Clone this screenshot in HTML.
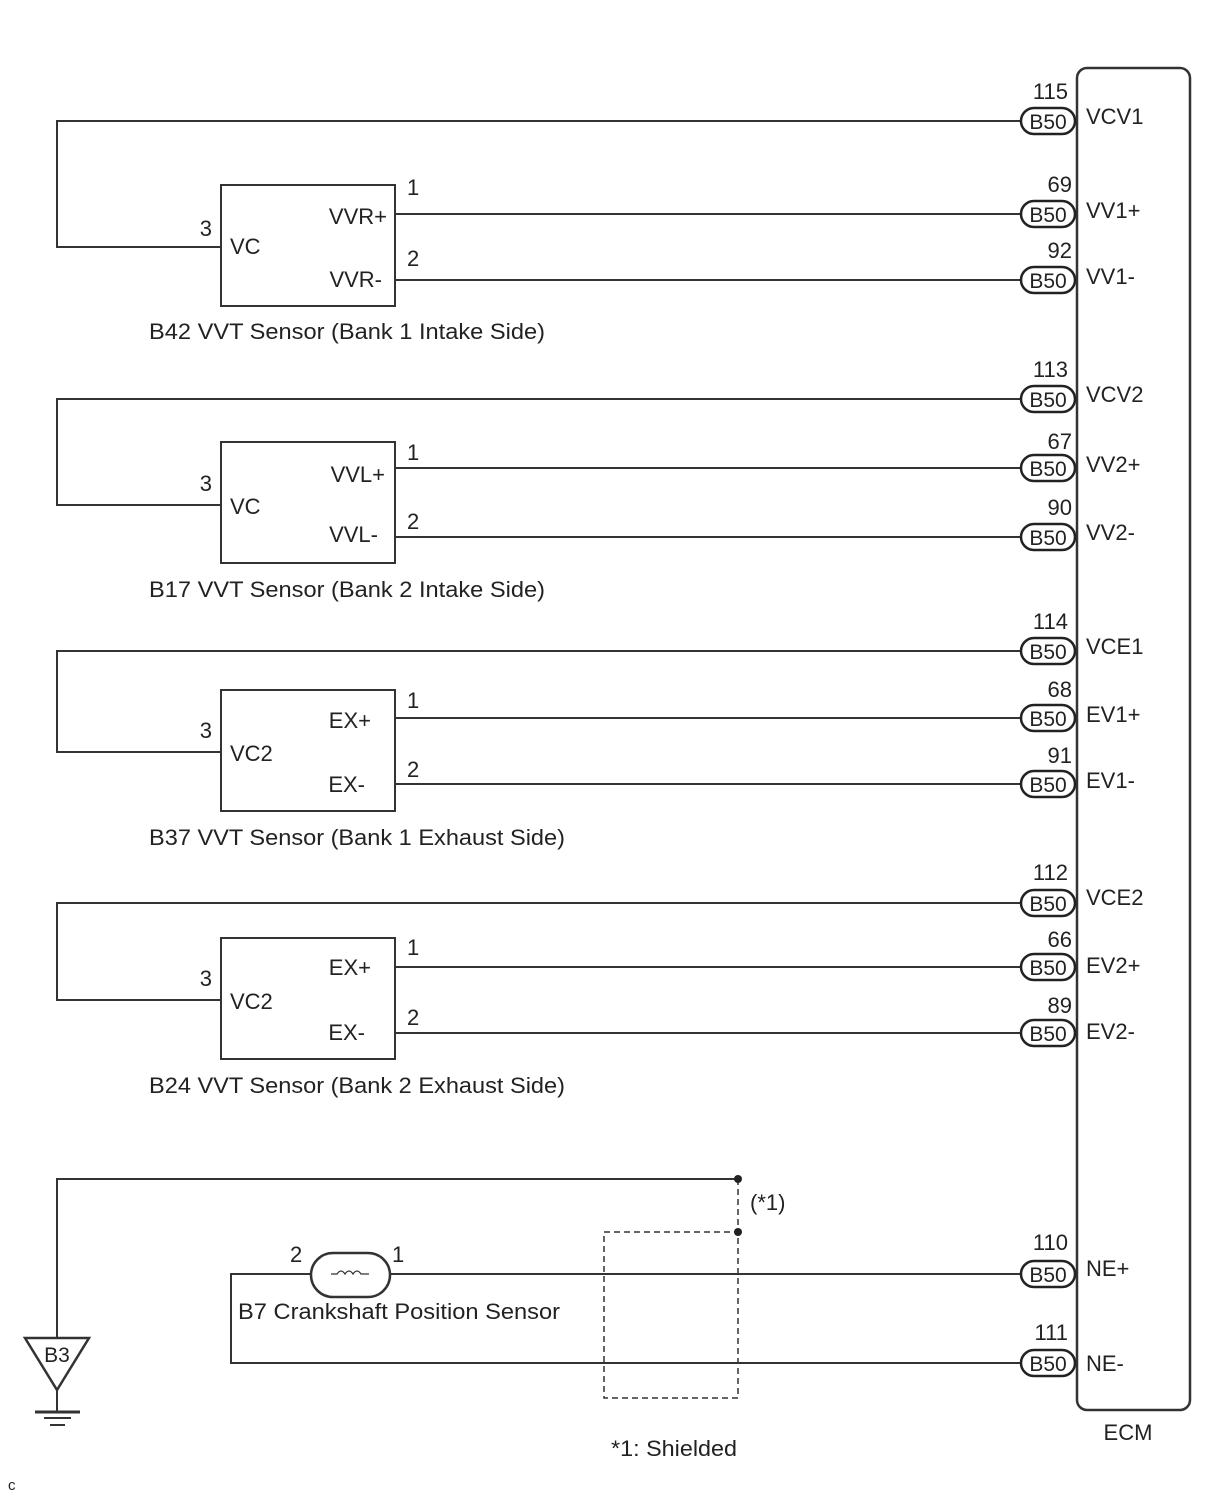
<!DOCTYPE html>
<html><head><style>body{margin:0;background:#fff}svg{display:block}text{font-family:"Liberation Sans",Arial,sans-serif;fill:#222}</style></head><body>
<svg width="1210" height="1498" viewBox="0 0 1210 1498" xmlns="http://www.w3.org/2000/svg">
<g stroke="#333" stroke-width="2" fill="none">
<rect x="1077" y="68" width="113" height="1342" rx="10" stroke-width="2.5"/>
<polyline points="1021,121 57,121 57,247 221,247"/>
<polyline points="1021,399 57,399 57,505 221,505"/>
<polyline points="1021,651 57,651 57,752 221,752"/>
<polyline points="1021,903 57,903 57,1000 221,1000"/>
<rect x="221" y="185" width="174" height="121"/>
<rect x="221" y="442" width="174" height="121"/>
<rect x="221" y="690" width="174" height="121"/>
<rect x="221" y="938" width="174" height="121"/>
<line x1="395" y1="214" x2="1021" y2="214"/><line x1="395" y1="280" x2="1021" y2="280"/>
<line x1="395" y1="468" x2="1021" y2="468"/><line x1="395" y1="537" x2="1021" y2="537"/>
<line x1="395" y1="718" x2="1021" y2="718"/><line x1="395" y1="784" x2="1021" y2="784"/>
<line x1="395" y1="967" x2="1021" y2="967"/><line x1="395" y1="1033" x2="1021" y2="1033"/>
<polyline points="738,1179 57,1179 57,1338"/>
<polygon points="25,1338 89,1338 57,1390" stroke-width="2.5"/>
<line x1="57" y1="1390" x2="57" y2="1412"/>
<line x1="35" y1="1412" x2="80" y2="1412" stroke-width="3"/>
<line x1="44" y1="1418" x2="71" y2="1418"/>
<line x1="50" y1="1425" x2="65" y2="1425"/>
<polyline points="1021,1274 390,1274"/>
<polyline points="311,1274 231,1274 231,1363 1021,1363"/>
<rect x="311" y="1253" width="79" height="44" rx="22" stroke-width="2.5"/>
<path d="M331,1274 h6 q4,-6 8,0 q4,-6 8,0 q4,-6 8,0 h8" stroke-width="1.3"/>
<g stroke-dasharray="6,4" stroke-width="1.5">
<line x1="738" y1="1179" x2="738" y2="1232"/>
<rect x="604" y="1232" width="134" height="166"/>
</g>
</g>
<circle cx="738" cy="1179" r="4" fill="#222"/><circle cx="738" cy="1232" r="4" fill="#222"/>
<g stroke="#222" stroke-width="2.5" fill="#fff">
<rect x="1021" y="108" width="54" height="26" rx="13"/>
<rect x="1021" y="201" width="54" height="26" rx="13"/>
<rect x="1021" y="267" width="54" height="26" rx="13"/>
<rect x="1021" y="386" width="54" height="26" rx="13"/>
<rect x="1021" y="455" width="54" height="26" rx="13"/>
<rect x="1021" y="524" width="54" height="26" rx="13"/>
<rect x="1021" y="638" width="54" height="26" rx="13"/>
<rect x="1021" y="705" width="54" height="26" rx="13"/>
<rect x="1021" y="771" width="54" height="26" rx="13"/>
<rect x="1021" y="890" width="54" height="26" rx="13"/>
<rect x="1021" y="954" width="54" height="26" rx="13"/>
<rect x="1021" y="1020" width="54" height="26" rx="13"/>
<rect x="1021" y="1261" width="54" height="26" rx="13"/>
<rect x="1021" y="1350" width="54" height="26" rx="13"/>
</g>
<g font-size="22">
<g text-anchor="middle">
<text x="1048" y="129" font-size="21">B50</text><text x="1048" y="222" font-size="21">B50</text><text x="1048" y="288" font-size="21">B50</text>
<text x="1048" y="407" font-size="21">B50</text><text x="1048" y="476" font-size="21">B50</text><text x="1048" y="545" font-size="21">B50</text>
<text x="1048" y="659" font-size="21">B50</text><text x="1048" y="726" font-size="21">B50</text><text x="1048" y="792" font-size="21">B50</text>
<text x="1048" y="911" font-size="21">B50</text><text x="1048" y="975" font-size="21">B50</text><text x="1048" y="1041" font-size="21">B50</text>
<text x="1048" y="1282" font-size="21">B50</text><text x="1048" y="1371" font-size="21">B50</text>
<text x="1128" y="1440">ECM</text>
<text x="674" y="1456" textLength="126" lengthAdjust="spacingAndGlyphs">*1: Shielded</text>
<text x="57" y="1362" font-size="21">B3</text>
</g>
<g text-anchor="end">
<text x="1068" y="99">115</text><text x="1072" y="192">69</text><text x="1072" y="258">92</text>
<text x="1068" y="377">113</text><text x="1072" y="449">67</text><text x="1072" y="515">90</text>
<text x="1068" y="629">114</text><text x="1072" y="697">68</text><text x="1072" y="763">91</text>
<text x="1068" y="880">112</text><text x="1072" y="947">66</text><text x="1072" y="1013">89</text>
<text x="1068" y="1250">110</text><text x="1068" y="1340">111</text>
<text x="387" y="224">VVR+</text><text x="382" y="287">VVR-</text>
<text x="385" y="482">VVL+</text><text x="378" y="542">VVL-</text>
<text x="371" y="728">EX+</text><text x="365" y="792">EX-</text>
<text x="371" y="975">EX+</text><text x="365" y="1040">EX-</text>
<text x="212" y="236">3</text><text x="212" y="491">3</text><text x="212" y="738">3</text><text x="212" y="986">3</text>
</g>
<text x="1086" y="124">VCV1</text><text x="1086" y="218">VV1+</text><text x="1086" y="284">VV1-</text>
<text x="1086" y="402">VCV2</text><text x="1086" y="472">VV2+</text><text x="1086" y="540">VV2-</text>
<text x="1086" y="654">VCE1</text><text x="1086" y="722">EV1+</text><text x="1086" y="788">EV1-</text>
<text x="1086" y="905">VCE2</text><text x="1086" y="973">EV2+</text><text x="1086" y="1039">EV2-</text>
<text x="1086" y="1276">NE+</text><text x="1086" y="1371">NE-</text>
<text x="230" y="254">VC</text><text x="230" y="514">VC</text><text x="230" y="761">VC2</text><text x="230" y="1009">VC2</text>
<text x="407" y="195">1</text><text x="407" y="266">2</text>
<text x="407" y="460">1</text><text x="407" y="529">2</text>
<text x="407" y="708">1</text><text x="407" y="777">2</text>
<text x="407" y="955">1</text><text x="407" y="1025">2</text>
<text x="149" y="339" textLength="396" lengthAdjust="spacingAndGlyphs">B42 VVT Sensor (Bank 1 Intake Side)</text>
<text x="149" y="597" textLength="396" lengthAdjust="spacingAndGlyphs">B17 VVT Sensor (Bank 2 Intake Side)</text>
<text x="149" y="845" textLength="416" lengthAdjust="spacingAndGlyphs">B37 VVT Sensor (Bank 1 Exhaust Side)</text>
<text x="149" y="1093" textLength="416" lengthAdjust="spacingAndGlyphs">B24 VVT Sensor (Bank 2 Exhaust Side)</text>
<text x="238" y="1319" textLength="322" lengthAdjust="spacingAndGlyphs">B7 Crankshaft Position Sensor</text>
<text x="290" y="1262">2</text><text x="392" y="1262">1</text>
<text x="750" y="1210">(*1)</text>
<text x="8" y="1490" font-size="15">c</text>
</g>
</svg>
</body></html>
